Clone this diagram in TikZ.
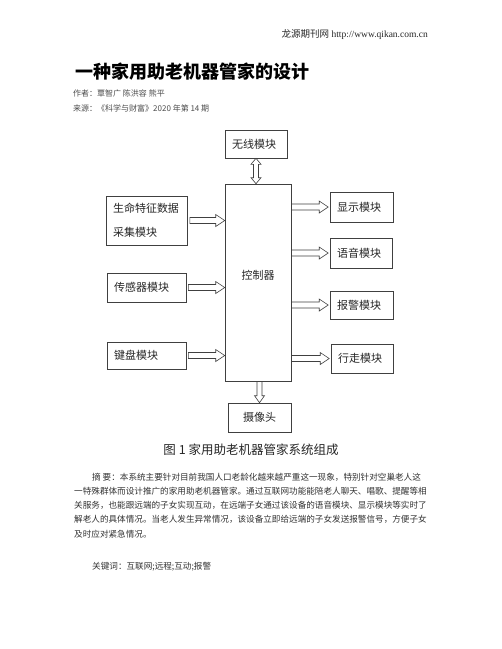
\documentclass[tikz,border=0pt]{standalone}
\usepackage{fontspec}
\setmainfont{Liberation Serif}
\newfontfamily\cjk{Noto Sans CJK SC}
\usetikzlibrary{calc}
\def\hollowarrow(#1)(#2)(#3:#4:#5){\path (#1) coordinate (ha) (#2) coordinate (hb); \coordinate (hh) at ($(hb)!#5!(ha)$);
	\draw[arrowline] ($(ha)!#3!90:(hb)$) -- ($(hh)!#3!-90:(ha)$) -- ($(hh)!#4!-90:(ha)$) -- (hb) -- ($(hh)!#4!90:(ha)$) -- ($(hh)!#3!90:(ha)$) -- ($(ha)!#3!-90:(hb)$) -- cycle;}
\def\hollowboth(#1)(#2)(#3:#4:#5){\path (#1) coordinate (ha) (#2) coordinate (hb); \coordinate (hh) at ($(hb)!#5!(ha)$); \coordinate (hg) at ($(ha)!#5!(hb)$);
	\draw[arrowline] (ha) -- ($(hg)!#4!90:(hb)$) -- ($(hg)!#3!90:(hb)$) -- ($(hh)!#3!-90:(ha)$) -- ($(hh)!#4!-90:(ha)$) -- (hb) -- ($(hh)!#4!90:(ha)$) -- ($(hh)!#3!90:(ha)$) -- ($(hg)!#3!-90:(hb)$) -- ($(hg)!#4!-90:(hb)$) -- cycle;}

\begin{document}
\begin{tikzpicture}[x=1pt, y=-1pt,
		box/.style={draw=black!75, line width=0.6pt, text=black!85, inner xsep=7pt, inner ysep=0pt, font=\cjk\fontsize{11}{13}\selectfont},
		arrowline/.style={draw=black!75, line width=0.6pt, line join=miter},
		txt/.style={inner sep=0pt, anchor=west, text=black!80}]
		%%%%% START %%%%%
		
		\fill[white] (0, 0) rectangle (502, 649);
		\useasboundingbox (0, 0) rectangle (502, 649);
		
		\node[txt, anchor=east, text=black!85, font=\fontsize{9.5}{11}\selectfont] (site) at (428, 35) {{\cjk 龙源期刊网} http://www.qikan.com.cn};
		\node[txt, text=black, font=\cjk\bfseries\fontsize{18}{20}\selectfont] (title) at (75, 72) {一种家用助老机器管家的设计};
		\node[txt, text=black!70, font=\cjk\fontsize{8}{10}\selectfont] (author) at (73, 93) {作者：覃智广 陈洪容 熊平};
		\node[txt, text=black!70, font=\cjk\fontsize{8}{10}\selectfont] (source) at (73, 108) {来源：《科学与财富》2020 年第 14 期};
		
		% modules
		\node[box, minimum height=28pt, text width=48pt, align=left] (wireless) at (256, 144) {无线模块};
		\node[box, minimum height=197pt, text width=52pt, align=center, text depth=16pt] (ctrl) at (258, 282.5) {控制器};
		\node[box, minimum height=49pt, text width=67pt, align=left] (vital) at (146.5, 220.5) {生命特征数据\\[11pt]采集模块};
		\node[box, minimum height=29pt, text width=65pt, align=left] (sensor) at (146.5, 287.5) {传感器模块};
		\node[box, minimum height=27pt, text width=65pt, align=left] (keyboard) at (146.5, 355.5) {键盘模块};
		\node[box, minimum height=30pt, text width=49pt, align=left] (display) at (361.5, 207) {显示模块};
		\node[box, minimum height=30pt, text width=48pt, align=left] (voice) at (361, 253) {语音模块};
		\node[box, minimum height=28pt, text width=49pt, align=left] (alarm) at (361.5, 305) {报警模块};
		\node[box, minimum height=29pt, text width=48pt, align=left] (walk) at (362, 358.5) {行走模块};
		\node[box, minimum height=29pt, text width=49pt, align=center] (camera) at (259.5, 417.5) {摄像头};
		
		% arrows
		\hollowboth(wireless.south)(wireless.south |- ctrl.north)(2.5pt:5pt:6pt)
		\hollowarrow([xshift=2.5pt]vital.east)(vital.east -| ctrl.west)(3pt:6pt:9pt)
		\hollowarrow([xshift=2pt]sensor.east)(sensor.east -| ctrl.west)(3pt:6pt:9pt)
		\hollowarrow([xshift=2pt]keyboard.east)(keyboard.east -| ctrl.west)(3pt:6pt:9pt)
		\hollowarrow(ctrl.east |- display.west)([xshift=-1.5pt]display.west)(3pt:6pt:9pt)
		\hollowarrow(ctrl.east |- voice.west)([xshift=-1.5pt]voice.west)(3pt:6pt:9pt)
		\hollowarrow(ctrl.east |- alarm.west)([xshift=-1.5pt]alarm.west)(3pt:6pt:9pt)
		\hollowarrow(ctrl.east |- walk.west)([xshift=-1.5pt]walk.west)(3pt:6pt:9pt)
		\hollowarrow(camera.north |- ctrl.south)(camera.north)(2.5pt:5pt:7pt)
		
		\node[txt, anchor=center, text=black!85, font=\cjk\fontsize{12.5}{14}\selectfont] (caption) at (251, 450) {图 1 家用助老机器管家系统组成};
		
		% abstract
		\node[txt, font=\cjk\fontsize{8.6}{10}\selectfont] (abs1) at (92, 477) {摘 要：本系统主要针对目前我国人口老龄化越来越严重这一现象，特别针对空巢老人这};
		\node[txt, font=\cjk\fontsize{8.6}{10}\selectfont] (abs2) at (74, 491) {一特殊群体而设计推广的家用助老机器管家。通过互联网功能能陪老人聊天、唱歌、提醒等相};
		\node[txt, font=\cjk\fontsize{8.6}{10}\selectfont] (abs3) at (74, 505) {关服务，也能跟远端的子女实现互动，在远端子女通过该设备的语音模块、显示模块等实时了};
		\node[txt, font=\cjk\fontsize{8.6}{10}\selectfont] (abs4) at (74, 519) {解老人的具体情况。当老人发生异常情况，该设备立即给远端的子女发送报警信号，方便子女};
		\node[txt, font=\cjk\fontsize{8.6}{10}\selectfont] (abs5) at (74, 534) {及时应对紧急情况。};
		\node[txt, font=\cjk\fontsize{8.6}{10}\selectfont] (keys) at (92, 567) {关键词：互联网;远程;互动;报警};
		
		%%%%% END %%%%%
	\end{tikzpicture}
\end{document}
